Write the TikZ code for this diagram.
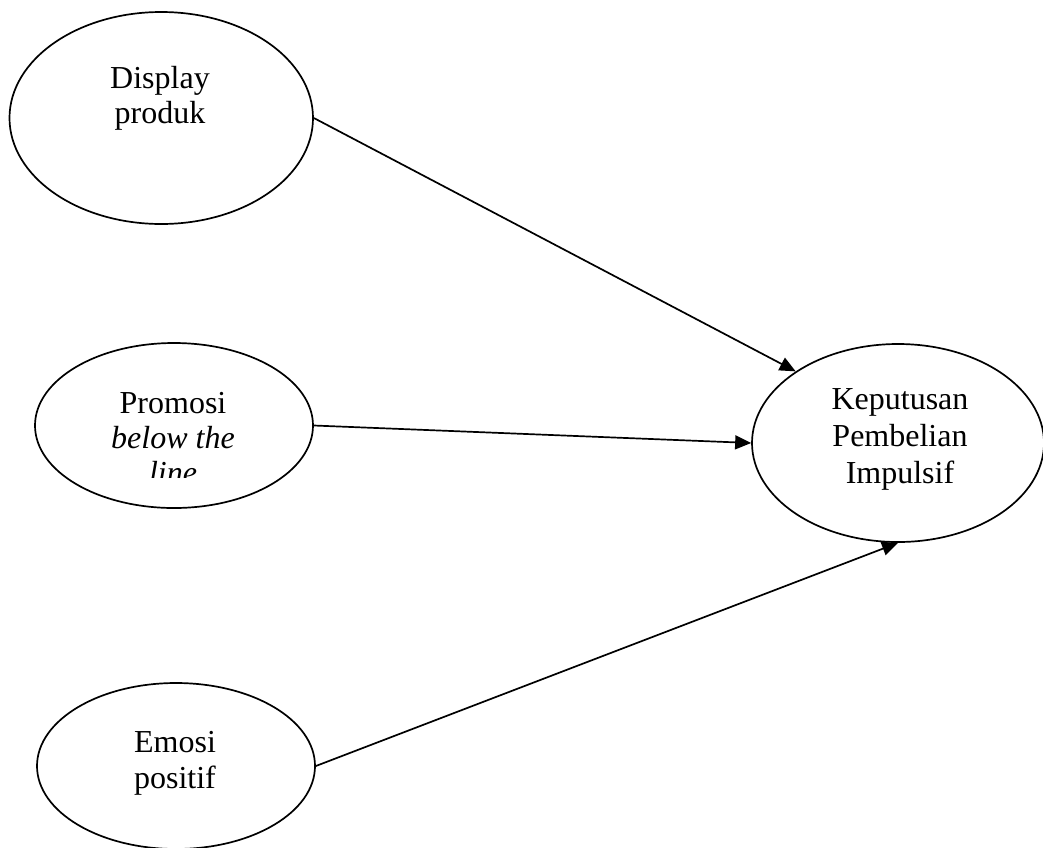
\documentclass[tikz,border=0pt]{standalone}
\usepackage{fontspec}
\setmainfont{Liberation Serif}
\usetikzlibrary{shapes.geometric,arrows.meta}
\begin{document}
\begin{tikzpicture}[x=1pt,y=-1pt,
  oval/.style={draw=black,line width=1.7pt,ellipse,inner sep=0pt},
  lbl/.style={inner sep=0pt,align=center,anchor=base},
  arr/.style={draw=black,line width=1.7pt,-{Triangle[length=16pt,width=14pt]}}]
\useasboundingbox (0,0) rectangle (1043,847);
\node[oval,minimum width=303.5pt,minimum height=212pt] (D) at (161.25,118) {};
\node[oval,minimum width=278pt,minimum height=165pt] (P) at (174,425.5) {};
\node[oval,minimum width=278pt,minimum height=166pt] (E) at (176,766) {};
\node[oval,minimum width=292pt,minimum height=198pt] (K) at (898,443) {};
\node[lbl,font=\fontsize{32}{35}\selectfont] (tD) at (160,123.3) {Display\\produk};
\begin{scope}
\clip (0,0) rectangle (400,477);
\node[lbl,font=\fontsize{32}{35}\selectfont] (tP) at (173,483.5) {Promosi\\\textit{below the}\\\textit{line}};
\end{scope}
\node[lbl,font=\fontsize{32}{36}\selectfont] (tE) at (175,788) {Emosi\\positif};
\node[lbl,font=\fontsize{32}{37}\selectfont] (tK) at (900,483) {Keputusan\\Pembelian\\Impulsif};
\draw[arr] (D.east) -- (K.145.4);
\draw[arr] (P.east) -- (K.west);
\draw[arr] (E.east) -- (K.south);
\end{tikzpicture}
\end{document}
